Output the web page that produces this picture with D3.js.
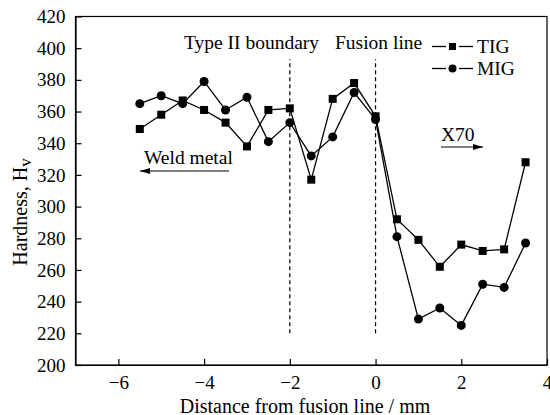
<!DOCTYPE html>
<html>
<head>
<meta charset="utf-8">
<script src="https://cdn.jsdelivr.net/npm/d3@7"></script>
<style>
  body { margin: 0; background: #fff; }
  svg text { font-family: "Liberation Serif", "Times New Roman", serif; fill: #000; }
</style>
</head>
<body>
<div class="plot1"></div>
<script>
// distance from fusion line (mm)
var distances = [-5.5, -5, -4.5, -4, -3.5, -3, -2.5, -2, -1.5, -1, -0.5, 0, 0.5, 1, 1.5, 2, 2.5, 3, 3.5];
var tigHardness = [349, 358, 367, 361, 353, 338, 361, 362, 317, 368, 378, 357, 292, 279, 262, 276, 272, 273, 328];
var migHardness = [365, 370, 365, 379, 361, 369, 341, 353, 332, 344, 372, 355, 281, 229, 236, 225, 251, 249, 277];
var xTicks = [-6, -4, -2, 0, 2, 4];
var yTicks = [200, 220, 240, 260, 280, 300, 320, 340, 360, 380, 400, 420];
var boundaries = [-2, 0];

var width = 550, height = 415;
var serif = '"Liberation Serif", "Times New Roman", serif';

var svg = d3.select(".plot1").append("svg")
  .attr("width", width)
  .attr("height", height);

var x = d3.scaleLinear().domain([-7, 4]).range([75.5, 547]);
var y = d3.scaleLinear().domain([200, 420]).range([365, 16.5]);

// frame
svg.append("rect")
  .attr("x", x(-7)).attr("y", y(420))
  .attr("width", x(4) - x(-7)).attr("height", y(200) - y(420))
  .attr("fill", "none").attr("stroke", "#000").attr("stroke-width", 1.2);

var xAxis = svg.append("g")
  .attr("transform", "translate(0," + y(200) + ")")
  .call(d3.axisBottom(x).tickValues(xTicks).tickSizeInner(-6).tickSizeOuter(0).tickPadding(11));
var yAxis = svg.append("g")
  .attr("transform", "translate(" + x(-7) + ",0)")
  .call(d3.axisLeft(y).tickValues(yTicks).tickSizeInner(-6).tickSizeOuter(0).tickPadding(10));

[xAxis, yAxis].forEach(function(g) {
  g.attr("font-family", serif).attr("font-size", 19);
  g.select(".domain").attr("stroke-width", 1.2);
  g.selectAll(".tick line").attr("stroke-width", 1.2);
  g.selectAll(".tick text")
    .style("font-family", serif)
    .style("font-size", "19px")
    .attr("fill", "#000");
});

// axis titles
svg.append("text")
  .attr("x", 305).attr("y", 413)
  .attr("text-anchor", "middle")
  .style("font-size", "20px")
  .text("Distance from fusion line / mm");

var yt = svg.append("text")
  .attr("transform", "translate(27,212) rotate(-90)")
  .attr("text-anchor", "middle")
  .style("font-size", "20px");
yt.append("tspan").text("Hardness, H");
yt.append("tspan").attr("dy", 4).style("font-size", "17px").text("v");

// boundary lines
svg.selectAll(".bnd")
  .data(boundaries)
  .join("line")
  .attr("x1", d => x(d)).attr("x2", d => x(d))
  .attr("y1", y(220)).attr("y2", y(393))
  .attr("stroke", "#000").attr("stroke-width", 1.2)
  .attr("stroke-dasharray", "4,3");

svg.append("text").attr("x", 184).attr("y", 49).style("font-size", "19.5px").text("Type II boundary");
svg.append("text").attr("x", 335).attr("y", 49).style("font-size", "19.5px").text("Fusion line");

// arrows
var defs = svg.append("defs");
defs.append("marker")
  .attr("id", "arr")
  .attr("viewBox", "0 0 10 6")
  .attr("refX", 10).attr("refY", 3)
  .attr("markerWidth", 10).attr("markerHeight", 6)
  .attr("markerUnits", "userSpaceOnUse")
  .attr("orient", "auto")
  .append("path").attr("d", "M0,0 L10,3 L0,6 Z").attr("fill", "#000");

svg.append("text").attr("x", 144).attr("y", 164).style("font-size", "19.5px").text("Weld metal");
svg.append("line")
  .attr("x1", 229).attr("x2", 140).attr("y1", 171).attr("y2", 171)
  .attr("stroke", "#000").attr("stroke-width", 1.2)
  .attr("marker-end", "url(#arr)");

svg.append("text").attr("x", 441).attr("y", 141).style("font-size", "19.5px").text("X70");
svg.append("line")
  .attr("x1", 441).attr("x2", 483).attr("y1", 147).attr("y2", 147)
  .attr("stroke", "#000").attr("stroke-width", 1.2)
  .attr("marker-end", "url(#arr)");

// series
var line = d3.line()
  .x(d => x(d[0]))
  .y(d => y(d[1]));

var tig = d3.zip(distances, tigHardness);
var mig = d3.zip(distances, migHardness);

[tig, mig].forEach(function(s) {
  svg.append("path")
    .datum(s)
    .attr("d", line)
    .attr("fill", "none")
    .attr("stroke", "#000")
    .attr("stroke-width", 1.3);
});

svg.selectAll(".sq")
  .data(tig)
  .join("rect")
  .attr("x", d => x(d[0]) - 4).attr("y", d => y(d[1]) - 4)
  .attr("width", 8).attr("height", 8)
  .attr("fill", "#000");

svg.selectAll(".ci")
  .data(mig)
  .join("circle")
  .attr("cx", d => x(d[0])).attr("cy", d => y(d[1]))
  .attr("r", 4.5)
  .attr("fill", "#000");

// legend
var legend = [
  {name: "TIG", shape: "square", y: 46.5},
  {name: "MIG", shape: "circle", y: 68.5}
];
var lg = svg.selectAll(".lg")
  .data(legend)
  .join("g")
  .attr("transform", d => "translate(0," + d.y + ")");
lg.append("line").attr("x1", 432).attr("x2", 446).attr("stroke", "#000").attr("stroke-width", 1.3);
lg.append("line").attr("x1", 459).attr("x2", 473).attr("stroke", "#000").attr("stroke-width", 1.3);
lg.each(function(d) {
  var g = d3.select(this);
  if (d.shape == "square") {
    g.append("rect").attr("x", 449).attr("y", -3.5).attr("width", 7).attr("height", 7).attr("fill", "#000");
  } else {
    g.append("circle").attr("cx", 452.5).attr("cy", 0).attr("r", 4).attr("fill", "#000");
  }
});
lg.append("text").attr("x", 477).attr("y", 6.5).style("font-size", "19.5px").text(d => d.name);
</script>
</body>
</html>
